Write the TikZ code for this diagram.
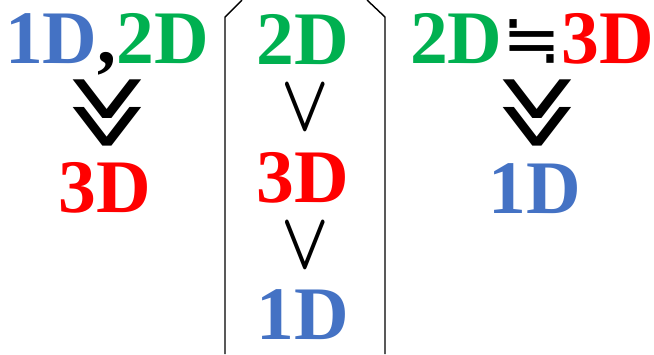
\documentclass[tikz,border=0pt]{standalone}
\usepackage{xcolor}
\usepackage{fontspec}
\setmainfont{Liberation Serif}
\newfontfamily\symfont{DejaVu Sans}
\usepackage{tikz}
\usetikzlibrary{positioning}
\definecolor{dimblue}{RGB}{68,114,196}
\definecolor{dimgreen}{RGB}{0,176,80}
\definecolor{dimred}{RGB}{255,0,0}

\begin{document}
\begin{tikzpicture}[
        x=0.01cm,y=-0.01cm,
        dim/.style={inner sep=0pt,anchor=base,font=\fontsize{21.5}{21.5}\selectfont\bfseries},
        menor/.style={inner sep=0pt,font=\fontsize{22}{22}\selectfont},
        implica/.style={inner sep=0pt,rotate=-90,font=\symfont\fontsize{19}{19}\selectfont}
    ]
        \useasboundingbox (0,0) rectangle (654,354);

        % esquerda
        \node[dim] (lpar) at (107,63) {\textcolor{dimblue}{1D}\textcolor{black}{,}\textcolor{dimgreen}{2D}};
        \node[implica] (limp) at (106,113) {\scalebox{1.1}[1.75]{≫}};
        \node[dim,text=dimred] (ltres) at (105,212) {3D};

        % meio
        \draw[thin] (225,354) -- (225,17) -- (242,0);
        \draw[thin] (367,0) -- (385,17) -- (385,354);
        \node[dim,text=dimgreen] (mdois) at (303,64) {2D};
        \node[menor] (mmenor1) at (305,108) {\scalebox{0.85}[1.1]{\boldmath$\vee$}};
        \node[dim,text=dimred] (mtres) at (303,202) {3D};
        \node[menor] (mmenor2) at (305,246) {\scalebox{0.85}[1.1]{\boldmath$\vee$}};
        \node[dim,text=dimblue] (mum) at (303,339) {1D};

        % direita
        \node[dim] (rpar) at (532,63) {\textcolor{dimgreen}{2D}{\symfont\mdseries\fontsize{20}{20}\selectfont ≒}\textcolor{dimred}{3D}};
        \node[implica] (rimp) at (536,113) {\scalebox{1.1}[1.75]{≫}};
        \node[dim,text=dimblue] (rum) at (535,213) {1D};
    \end{tikzpicture}
\end{document}
